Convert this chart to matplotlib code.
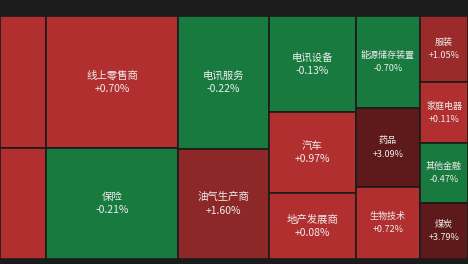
import matplotlib
matplotlib.use('Agg')
import matplotlib.pyplot as plt
from matplotlib.patches import Rectangle

plt.rcParams['font.family'] = ['Noto Sans CJK SC', 'DejaVu Sans']

# sectors grouped by treemap column (left -> right), top -> bottom inside a column
column_names = [
    ['', ''],
    ['线上零售商', '保险'],
    ['电讯服务', '油气生产商'],
    ['电讯设备', '汽车', '地产发展商'],
    ['能源储存装置', '药品', '生物技术'],
    ['服装', '家庭电器', '其他金融', '煤炭'],
]
column_sizes = [
    [60.7, 51.1],
    [174.2, 146.5],
    [121.0, 100.1],
    [83.5, 70.5, 57.4],
    [58.9, 50.6, 46.1],
    [31.7, 29.3, 28.8, 26.9],
]
column_changes = [
    [0.65, 0.60],
    [0.70, -0.21],
    [-0.22, 1.60],
    [-0.13, 0.97, 0.08],
    [-0.70, 3.09, 0.72],
    [1.05, 0.11, -0.47, 3.79],
]


def cell_color(v):
    if v < 0:
        return '#187a3f'
    if v < 1.0:
        return '#b12f2f'
    if v < 1.5:
        return '#9b2a2a'
    if v < 3.0:
        return '#8d2828'
    return '#5e1a1a'


fig = plt.figure(figsize=(4.68, 2.64), dpi=100)
fig.patch.set_facecolor('#1b1b1b')
ax = fig.add_axes([0, 5 / 264, 1, 243 / 264])
ax.set_xlim(0, 1)
ax.set_ylim(0, 1)
ax.axis('off')

total = sum(sum(c) for c in column_sizes)
x = 0.0
for names, sizes, changes in zip(column_names, column_sizes, column_changes):
    col_total = sum(sizes)
    w = col_total / total
    y = 1.0
    for name, size, ch in zip(names, sizes, changes):
        h = size / col_total
        y -= h
        ax.add_patch(Rectangle((x, y), w, h, facecolor=cell_color(ch),
                               edgecolor='#1b1b1b', linewidth=1.2))
        if name:
            fs = 7.5 if w > 0.15 else 6.5
            cx, cy = x + w / 2, y + h / 2
            ax.annotate(name, (cx, cy), xytext=(0, 4.7), textcoords='offset points',
                        ha='center', va='center', fontsize=fs, color='#eeeeee')
            ax.annotate(f'{ch:+.2f}%', (cx, cy), xytext=(0, -4.7), textcoords='offset points',
                        ha='center', va='center', fontsize=fs, color='#eeeeee')
    x += w

fig.savefig('out.png', dpi=100, facecolor=fig.get_facecolor())
